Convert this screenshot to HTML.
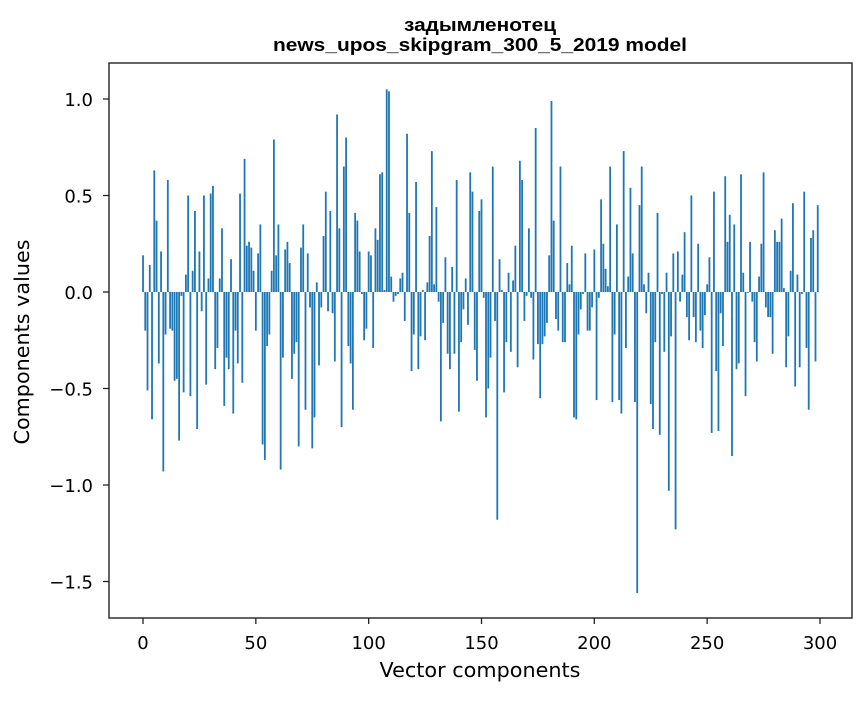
<!DOCTYPE html>
<html><head><meta charset="utf-8"><style>
body{margin:0;background:#fff;}
svg text{font-family:"DejaVu Sans","Liberation Sans",sans-serif;fill:#000;}
svg text.title{font-family:"Liberation Sans","DejaVu Sans",sans-serif;font-weight:bold;}
</style></head><body>
<svg id="chart" width="867" height="696" xmlns="http://www.w3.org/2000/svg">
<text class="title" x="480" y="31" text-anchor="middle" font-size="18" textLength="152" lengthAdjust="spacingAndGlyphs">задымленотец</text>
<text class="title" x="480" y="51" text-anchor="middle" font-size="18" textLength="414" lengthAdjust="spacingAndGlyphs">news_upos_skipgram_300_5_2019 model</text>
<g id="bars"></g>
<rect x="109" y="63" width="743" height="555" fill="none" stroke="#222" stroke-width="1.4"/>
<g id="xticks"></g>
<g id="yticks"></g>
<text x="480" y="677" text-anchor="middle" font-size="20" textLength="201" lengthAdjust="spacingAndGlyphs">Vector components</text>
<text x="29" y="342" text-anchor="middle" font-size="20" textLength="205" lengthAdjust="spacingAndGlyphs" transform="rotate(-90 29 342)">Components values</text>
</svg>
<script>
const values = [
0.19,-0.20,-0.51,0.14,-0.66,0.63,0.37,-0.37,0.21,-0.93,
-0.22,0.58,-0.19,-0.20,-0.46,-0.45,-0.77,-0.02,-0.52,0.09,
0.50,-0.54,0.11,0.42,-0.71,0.21,-0.10,0.50,-0.48,0.07,
0.51,0.55,-0.40,-0.29,0.07,0.33,-0.59,-0.34,-0.40,0.17,
-0.63,-0.20,-0.37,0.51,-0.47,0.69,0.24,0.26,0.23,0.11,
-0.20,0.20,0.35,-0.79,-0.87,-0.28,-0.22,0.11,0.79,0.19,
0.35,-0.92,-0.34,0.22,0.26,0.15,-0.45,-0.32,-0.26,-0.80,
0.23,0.35,-0.61,0.20,-0.08,-0.81,-0.65,0.05,-0.38,-0.08,
0.29,0.52,-0.10,0.42,-0.11,-0.36,0.92,0.33,-0.70,0.65,
0.80,-0.28,-0.37,-0.61,0.41,0.37,0.21,-0.01,-0.25,-0.19,
0.21,0.19,-0.29,0.33,0.27,0.61,0.62,0.01,1.05,1.04,
0.08,-0.05,-0.02,-0.01,0.07,0.10,-0.15,0.82,0.41,-0.41,
-0.22,0.57,-0.40,-0.23,0.01,-0.25,0.05,0.29,0.73,0.04,
0.44,-0.05,-0.67,-0.16,0.18,-0.32,-0.40,0.13,-0.32,0.58,
-0.62,-0.26,-0.09,0.07,-0.17,0.62,0.52,-0.30,-0.46,0.42,
0.48,-0.03,-0.65,-0.50,-0.34,0.65,-0.15,-1.18,0.17,0.01,
-0.52,-0.26,0.10,-0.31,0.06,0.24,-0.39,0.68,0.58,-0.15,
-0.02,0.33,-0.03,-0.35,0.85,-0.27,-0.55,-0.27,-0.23,-0.16,
0.19,0.99,0.37,-0.14,-0.20,0.65,-0.26,-0.26,0.15,0.04,
0.24,-0.65,-0.66,-0.22,-0.09,-0.01,0.20,-0.20,-0.20,-0.08,
0.22,-0.56,-0.03,0.48,0.25,0.12,0.03,0.65,-0.57,-0.22,
0.35,-0.56,-0.63,0.73,-0.29,0.08,0.54,0.20,-0.57,-1.56,
0.45,0.65,0.04,-0.11,0.10,-0.58,-0.71,-0.26,0.41,-0.74,
-0.01,-0.31,0.10,-1.03,-0.23,0.20,-1.23,0.21,-0.05,0.09,
0.31,-0.13,-0.25,0.50,-0.13,-0.26,0.25,-0.20,-0.29,-0.12,
0.04,0.18,-0.73,0.52,-0.41,-0.72,-0.11,-0.28,0.60,0.26,
0.40,-0.85,0.35,-0.40,-0.37,0.61,0.10,-0.54,-0.005,0.26,
-0.05,-0.26,-0.36,0.08,0.25,0.62,-0.08,-0.13,-0.13,-0.32,
0.32,0.26,0.26,0.38,0.02,-0.39,-0.23,0.11,0.46,-0.49,
0.09,-0.39,-0.01,0.52,-0.29,-0.61,0.28,0.32,-0.36,0.45
];
const xTickValues = [0,50,100,150,200,250,300];
const yTickValues = [-1.5,-1.0,-0.5,0.0,0.5,1.0];
const yTickLabels = ["\u22121.5","\u22121.0","\u22120.5","0.0","0.5","1.0"];

const NS = "http://www.w3.org/2000/svg";
function xScale(v){ return 143 + v * (677/300); }
function yScale(v){ return 292 - v * 193; }
const barsG = document.getElementById('bars');
values.forEach((v, i) => {
  const r = document.createElementNS(NS, 'rect');
  const x0 = xScale(i - 0.4), x1 = xScale(i + 0.4);
  const y0 = yScale(Math.max(v, 0)), y1 = yScale(Math.min(v, 0));
  r.setAttribute('x', x0);
  r.setAttribute('width', x1 - x0);
  r.setAttribute('y', y0);
  r.setAttribute('height', Math.max(y1 - y0, 0.3));
  r.setAttribute('fill', '#1f77b4');
  
  
  barsG.appendChild(r);
});
const xg = document.getElementById('xticks');
xTickValues.forEach(t => {
  const x = xScale(t);
  const l = document.createElementNS(NS, 'line');
  l.setAttribute('x1', x); l.setAttribute('x2', x);
  l.setAttribute('y1', 618); l.setAttribute('y2', 624);
  l.setAttribute('stroke', '#222'); l.setAttribute('stroke-width', '1.3');
  
  
  xg.appendChild(l);
  const tx = document.createElementNS(NS, 'text');
  tx.setAttribute('x', x); tx.setAttribute('y', 649);
  tx.setAttribute('text-anchor', 'middle'); tx.setAttribute('font-size', '18');
  tx.textContent = String(t);
  
  
  xg.appendChild(tx);
});
const yg = document.getElementById('yticks');
yTickValues.forEach((t, k) => {
  const y = yScale(t);
  const l = document.createElementNS(NS, 'line');
  l.setAttribute('x1', 103); l.setAttribute('x2', 109);
  l.setAttribute('y1', y); l.setAttribute('y2', y);
  l.setAttribute('stroke', '#222'); l.setAttribute('stroke-width', '1.3');
  
  
  yg.appendChild(l);
  const tx = document.createElementNS(NS, 'text');
  tx.setAttribute('x', 93); tx.setAttribute('y', y + 7);
  tx.setAttribute('text-anchor', 'end'); tx.setAttribute('font-size', '18');
  tx.textContent = yTickLabels[k];
  
  
  yg.appendChild(tx);
});
</script>
</body></html>
